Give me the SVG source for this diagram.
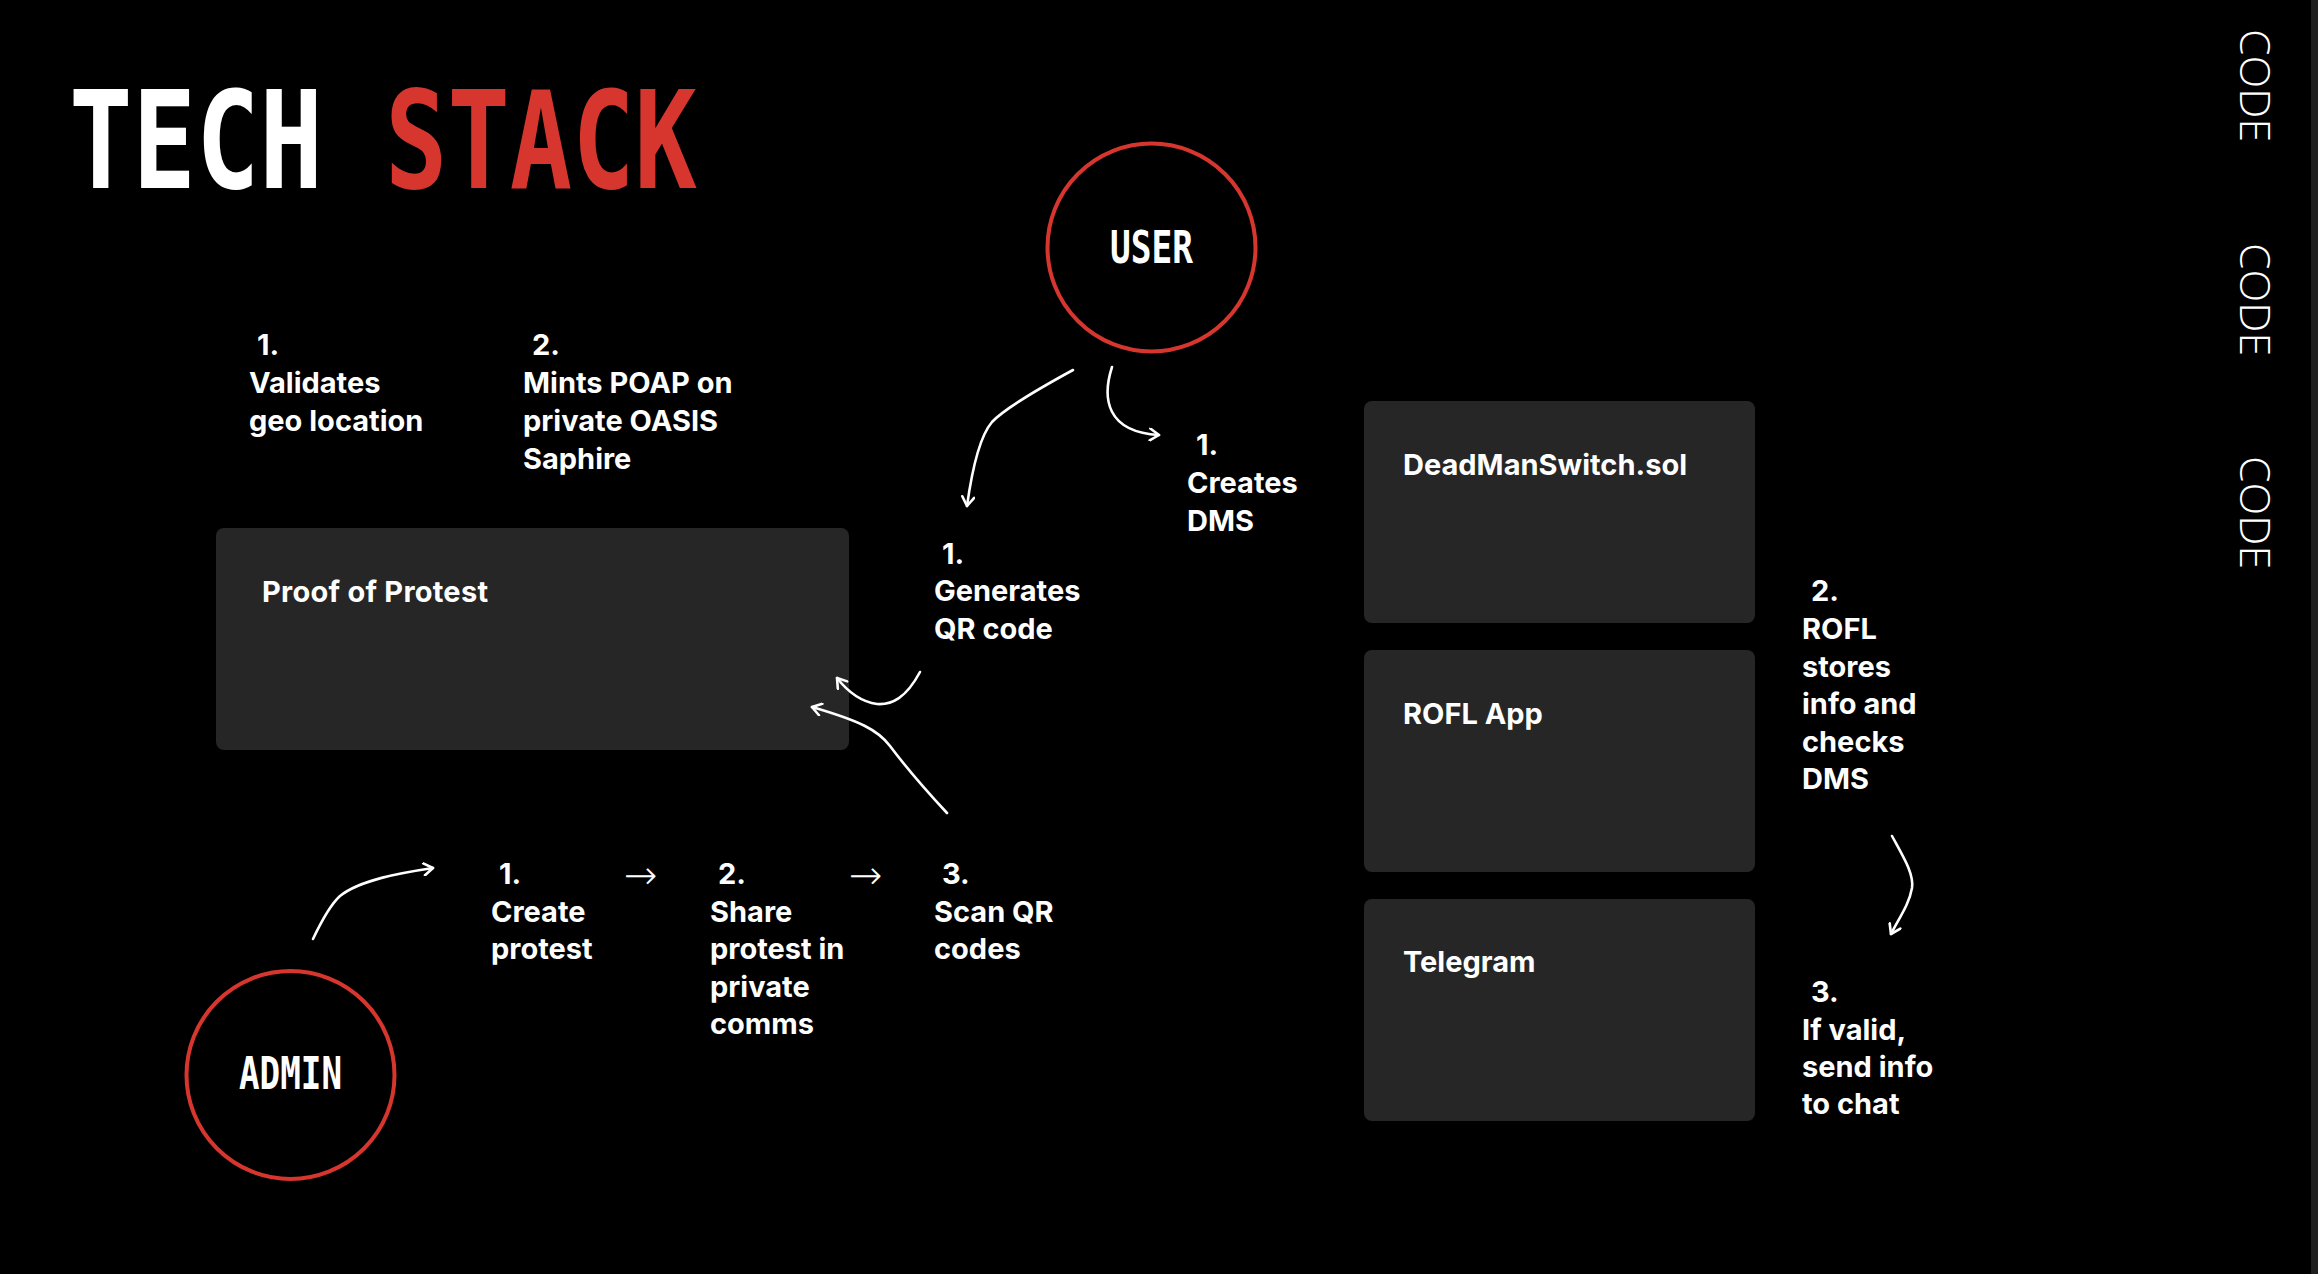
<svg xmlns="http://www.w3.org/2000/svg" width="2318" height="1274" viewBox="0 0 2318 1274">
  <defs>
    <style>
      .bg { fill: #000000; }
      .box { fill: #262626; }
      .actor { fill: #000000; stroke: #D7362F; stroke-width: 4; }
      .pix { font-family: "DejaVu Sans Mono", "Liberation Mono", monospace; font-weight: bold; }
      .t { font-family: Inter, "Liberation Sans", sans-serif; font-weight: 700; font-size: 29px; fill: #ffffff; }
      .arr { font-family: "DejaVu Sans", sans-serif; font-weight: 200; font-size: 40px; fill: #ffffff; }
      .code { font-family: "Open Sans", "DejaVu Sans", sans-serif; font-weight: 300; font-size: 42px; fill: #ffffff; }
      .conn { fill: none; stroke: #ffffff; stroke-width: 2.6; stroke-linecap: round; stroke-linejoin: round; }
    </style>
    <marker id="arrow" viewBox="0 0 14 14" refX="12" refY="7" markerWidth="14" markerHeight="14" markerUnits="userSpaceOnUse" orient="auto">
      <path d="M3,1 L12,7 L3,13" fill="none" stroke="#ffffff" stroke-width="2.6" stroke-linecap="round" stroke-linejoin="round"/>
    </marker>
  </defs>

  <rect class="bg" x="0" y="0" width="2318" height="1274"/>
  <rect x="2311" y="0" width="7" height="1274" fill="#1f1f1f"/>

  <g id="title">
    <text class="pix" x="69" y="188" font-size="136" fill="#ffffff" textLength="254" lengthAdjust="spacingAndGlyphs">TECH</text>
    <text class="pix" x="385" y="188" font-size="136" fill="#D7362F" textLength="312" lengthAdjust="spacingAndGlyphs">STACK</text>
  </g>

  <g id="code-labels">
    <text class="code" transform="translate(2240,29) rotate(90)" textLength="113" lengthAdjust="spacingAndGlyphs">CODE</text>
    <text class="code" transform="translate(2240,243) rotate(90)" textLength="113" lengthAdjust="spacingAndGlyphs">CODE</text>
    <text class="code" transform="translate(2240,456) rotate(90)" textLength="113" lengthAdjust="spacingAndGlyphs">CODE</text>
  </g>

  <g id="user">
    <circle class="actor" cx="1151.5" cy="247.5" r="104"/>
    <text class="pix" x="1151.5" y="263" font-size="45" font-weight="normal" fill="#ffffff" text-anchor="middle" textLength="83" lengthAdjust="spacingAndGlyphs">USER</text>
  </g>

  <g id="admin">
    <circle class="actor" cx="290.5" cy="1075" r="104"/>
    <text class="pix" x="290.5" y="1089" font-size="44" font-weight="normal" fill="#ffffff" text-anchor="middle" textLength="103" lengthAdjust="spacingAndGlyphs">ADMIN</text>
  </g>

  <g id="proof-of-protest">
    <rect class="box" x="216" y="528" width="633" height="222" rx="8"/>
    <text class="t" x="262" y="602" textLength="226" lengthAdjust="spacing">Proof of Protest</text>
  </g>

  <g id="deadmanswitch">
    <rect class="box" x="1364" y="401" width="391" height="222" rx="8"/>
    <text class="t" x="1403" y="475">DeadManSwitch.sol</text>
  </g>

  <g id="rofl-app">
    <rect class="box" x="1364" y="650" width="391" height="222" rx="8"/>
    <text class="t" x="1403" y="724">ROFL App</text>
  </g>

  <g id="telegram">
    <rect class="box" x="1364" y="899" width="391" height="222" rx="8"/>
    <text class="t" x="1403" y="972">Telegram</text>
  </g>

  <g id="labels">
    <g id="label-validates">
      <text class="t" x="257" y="355">1.</text>
      <text class="t" x="249" y="393">Validates</text>
      <text class="t" x="249" y="431">geo location</text>
    </g>
    <g id="label-mints">
      <text class="t" x="532" y="355">2.</text>
      <text class="t" x="523" y="393">Mints POAP on</text>
      <text class="t" x="523" y="431">private OASIS</text>
      <text class="t" x="523" y="469">Saphire</text>
    </g>
    <g id="label-generates">
      <text class="t" x="942" y="564">1.</text>
      <text class="t" x="934" y="601">Generates</text>
      <text class="t" x="934" y="639">QR code</text>
    </g>
    <g id="label-creates-dms">
      <text class="t" x="1196" y="455">1.</text>
      <text class="t" x="1187" y="493">Creates</text>
      <text class="t" x="1187" y="531">DMS</text>
    </g>
    <g id="label-create-protest">
      <text class="t" x="499" y="884">1.</text>
      <text class="t" x="491" y="922">Create</text>
      <text class="t" x="491" y="959">protest</text>
    </g>
    <text class="arr" x="624" y="889">→</text>
    <g id="label-share">
      <text class="t" x="718" y="884">2.</text>
      <text class="t" x="710" y="922">Share</text>
      <text class="t" x="710" y="959">protest in</text>
      <text class="t" x="710" y="997">private</text>
      <text class="t" x="710" y="1034">comms</text>
    </g>
    <text class="arr" x="849" y="889">→</text>
    <g id="label-scan">
      <text class="t" x="942" y="884">3.</text>
      <text class="t" x="934" y="922">Scan QR</text>
      <text class="t" x="934" y="959">codes</text>
    </g>
    <g id="label-rofl-stores">
      <text class="t" x="1811" y="601">2.</text>
      <text class="t" x="1802" y="639">ROFL</text>
      <text class="t" x="1802" y="677">stores</text>
      <text class="t" x="1802" y="714">info and</text>
      <text class="t" x="1802" y="752">checks</text>
      <text class="t" x="1802" y="789">DMS</text>
    </g>
    <g id="label-send-info">
      <text class="t" x="1811" y="1002">3.</text>
      <text class="t" x="1802" y="1040">If valid,</text>
      <text class="t" x="1802" y="1077">send info</text>
      <text class="t" x="1802" y="1114">to chat</text>
    </g>
  </g>

  <g id="connectors">
    <path class="conn" marker-end="url(#arrow)" d="M1073,370 C1040,388 1005,408 992,422 C980,436 972,470 967,506"/>
    <path class="conn" marker-end="url(#arrow)" d="M1112,367 C1102,398 1106,432 1159,435"/>
    <path class="conn" marker-end="url(#arrow)" d="M920,672 C906,698 892,705 877,704 C862,702 848,692 837,678"/>
    <path class="conn" marker-end="url(#arrow)" d="M947,813 C920,784 902,762 890,746 C878,730 860,721 812,707"/>
    <path class="conn" marker-end="url(#arrow)" d="M313,939 C322,920 330,905 340,896 C360,880 400,873 433,868"/>
    <path class="conn" marker-end="url(#arrow)" d="M1892,836 C1904,858 1914,874 1912,888 C1909,905 1899,918 1891,934"/>
  </g>
</svg>
